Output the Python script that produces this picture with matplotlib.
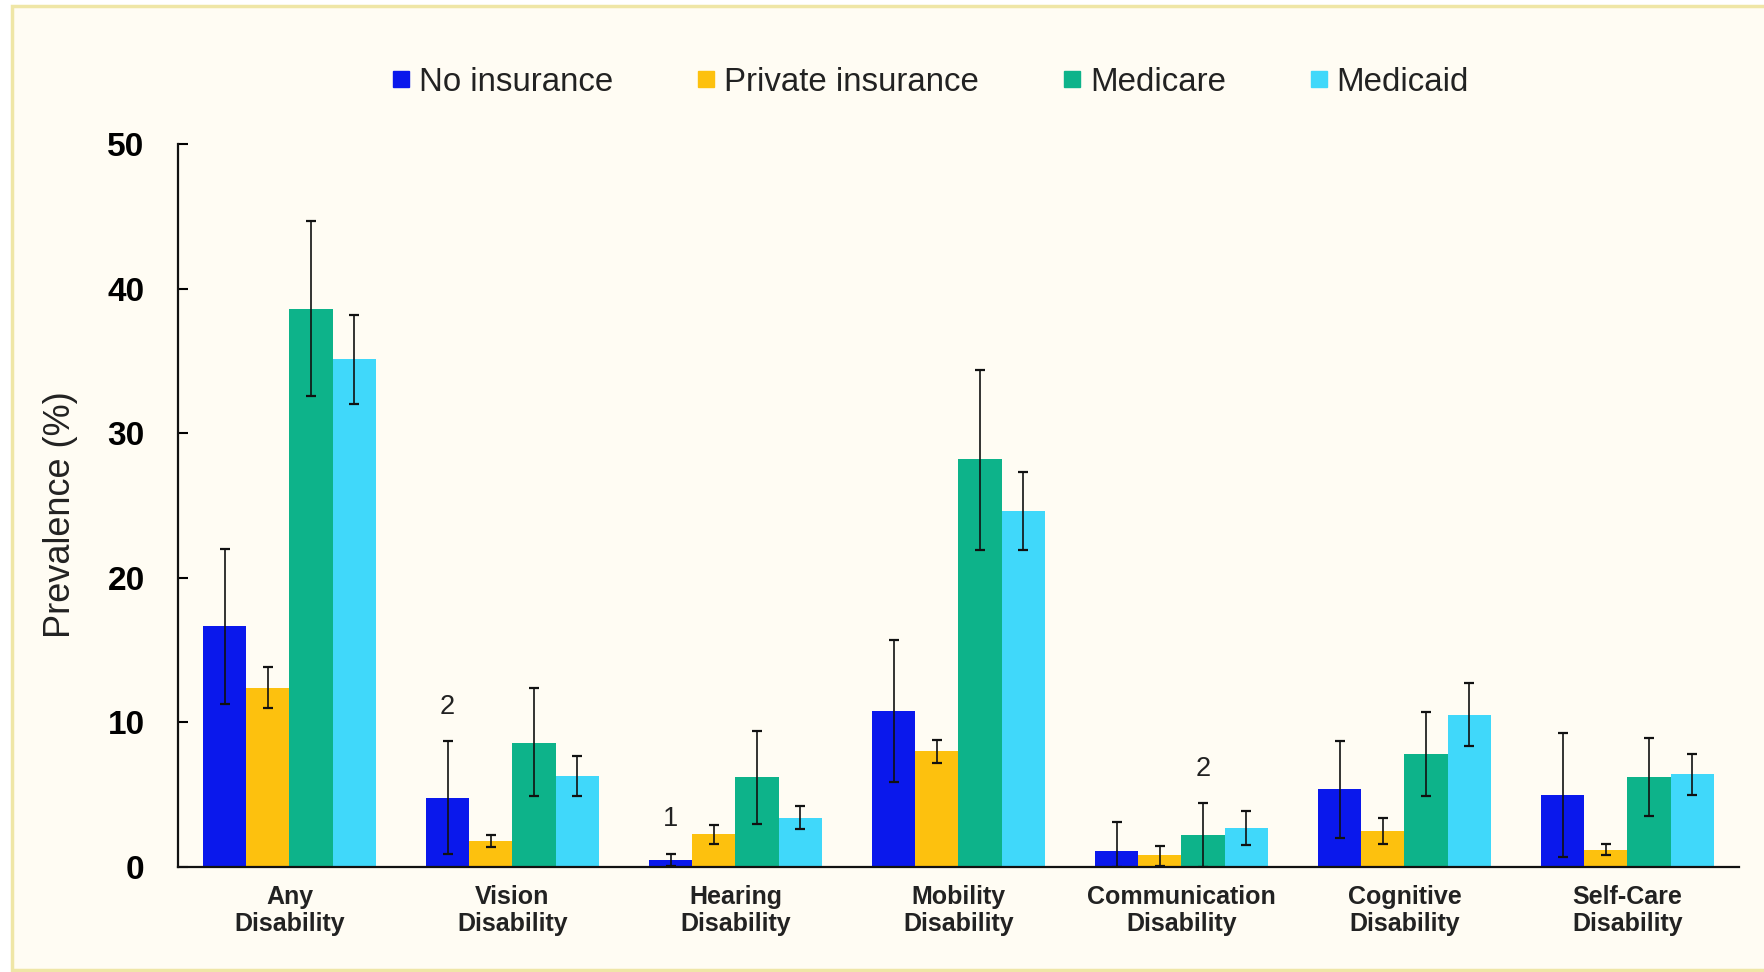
import matplotlib
matplotlib.use("Agg")
import matplotlib.pyplot as plt
from matplotlib.lines import Line2D
from matplotlib.patches import Rectangle
import numpy as np

plt.rcParams['font.family'] = ['Liberation Sans', 'DejaVu Sans']

categories = ["Any\nDisability", "Vision\nDisability", "Hearing\nDisability",
              "Mobility\nDisability", "Communication\nDisability",
              "Cognitive\nDisability", "Self-Care\nDisability"]

series_names = ["No insurance", "Private insurance", "Medicare", "Medicaid"]

no_ins = [16.7, 4.8, 0.5, 10.8, 1.1, 5.4, 5.0]
no_ins_lo = [11.3, 0.9, 0.1, 5.9, 0.0, 2.0, 0.7]
no_ins_hi = [22.0, 8.7, 0.9, 15.7, 3.1, 8.7, 9.3]

private = [12.4, 1.8, 2.3, 8.0, 0.8, 2.5, 1.2]
private_lo = [11.0, 1.4, 1.6, 7.2, 0.1, 1.6, 0.8]
private_hi = [13.8, 2.2, 2.9, 8.8, 1.45, 3.4, 1.6]

medicare = [38.6, 8.6, 6.2, 28.2, 2.2, 7.8, 6.2]
medicare_lo = [32.6, 4.9, 3.0, 21.9, 0.0, 4.9, 3.5]
medicare_hi = [44.7, 12.4, 9.4, 34.4, 4.4, 10.7, 8.9]

medicaid = [35.1, 6.3, 3.4, 24.6, 2.7, 10.5, 6.4]
medicaid_lo = [32.0, 4.9, 2.6, 21.9, 1.5, 8.4, 5.0]
medicaid_hi = [38.2, 7.7, 4.2, 27.3, 3.9, 12.7, 7.8]

# footnote markers: (category index, series index, text)
footnotes = [(1, 0, "2"), (2, 0, "1"), (4, 2, "2")]

yticks = [0, 10, 20, 30, 40, 50]

colors = ["#0A18EC", "#FDC10E", "#0DB38A", "#40D8FA"]
bg = "#FFFCF3"

values = [no_ins, private, medicare, medicaid]
lows = [no_ins_lo, private_lo, medicare_lo, medicaid_lo]
highs = [no_ins_hi, private_hi, medicare_hi, medicaid_hi]

fig = plt.figure(figsize=(17.65, 9.72), dpi=100)
fig.patch.set_facecolor("white")

# cream panel with a pale yellow frame (open on the right)
frame = Rectangle((12.5 / 1765, 2 / 972), 1.2, 1 - 8.5 / 972,
                  transform=fig.transFigure, facecolor=bg,
                  edgecolor="#EFE6A6", linewidth=2.5, zorder=-10)
fig.patches.append(frame)

ax = fig.add_axes([178 / 1765, 1 - 867 / 972, (1739 - 178) / 1765, (867 - 144) / 972])
ax.set_facecolor(bg)

x = np.arange(len(categories))
w = 0.194
offsets = [-1.5 * w, -0.5 * w, 0.5 * w, 1.5 * w]

for k in range(4):
    v = np.array(values[k])
    lo = np.array(lows[k])
    hi = np.array(highs[k])
    ax.bar(x + offsets[k], v, width=w, color=colors[k], zorder=2)
    ax.errorbar(x + offsets[k], v, yerr=[v - lo, hi - v], fmt="none",
                ecolor="#111111", elinewidth=1.2, capsize=3.5, capthick=1.6,
                zorder=3)

for ci, si, txt in footnotes:
    ax.text(x[ci] + offsets[si], highs[si][ci] + 1.5, txt, ha="center",
            va="bottom", fontsize=19.5, color="#222222")

ax.set_xlim(-0.5, 6.5)
ax.set_ylim(0, 50)
ax.set_yticks(yticks)
ax.set_yticklabels([str(t) for t in yticks], fontsize=24, fontweight="bold")
ax.tick_params(axis="y", direction="in", length=7, width=1.5, pad=24)
ax.set_xticks(x)
ax.set_xticklabels(categories, fontsize=18, fontweight="bold", color="#222222",
                   linespacing=1.15)
ax.tick_params(axis="x", length=0, pad=13)

for s in ["top", "right"]:
    ax.spines[s].set_visible(False)
for s in ["left", "bottom"]:
    ax.spines[s].set_linewidth(1.6)
    ax.spines[s].set_color("#111111")

ax.set_ylabel("Prevalence (%)", fontsize=26, color="#222222")
ax.yaxis.set_label_coords(-0.064, 0.488)

handles = [Line2D([0], [0], marker="s", linestyle="none", markersize=11,
                  markerfacecolor=c, markeredgecolor=c) for c in colors]
fig.legend(handles, series_names, loc="center", bbox_to_anchor=(0.5275, 0.9156),
           ncol=4, frameon=False, fontsize=23.8, handlelength=0.5,
           handletextpad=0.3, columnspacing=2.55, labelcolor="#222222")

fig.savefig("out.png", dpi=100, facecolor=fig.get_facecolor())
